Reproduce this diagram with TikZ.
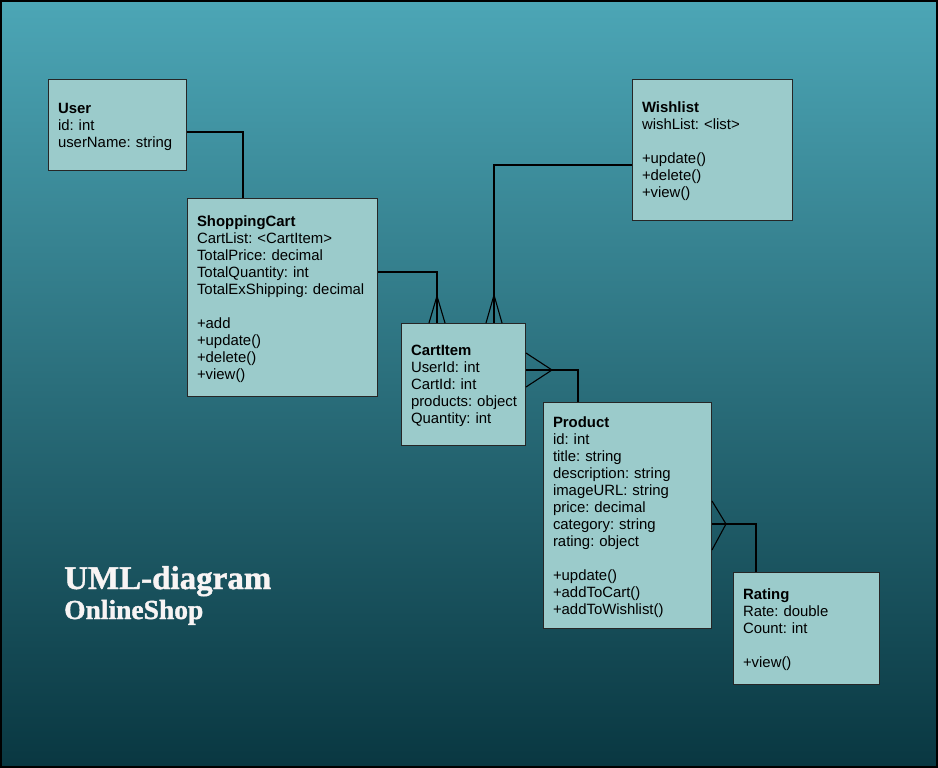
\documentclass[tikz,border=0pt]{standalone}
\usepackage{fontspec}
\setmainfont{Liberation Sans}
\newfontfamily\titlefont[BoldFeatures={FakeBold=1.3}]{Liberation Serif}
\frenchspacing
\definecolor{bgtop}{HTML}{4CA6B6}
\definecolor{bgmid}{HTML}{2A7884}
\definecolor{bgbot}{HTML}{093741}
\definecolor{boxfill}{HTML}{9BCBCB}
\definecolor{titlecol}{HTML}{F8F4F4}
\newcommand{\fstrut}{\rule{0pt}{13.6pt}}
\tikzset{
  cls/.style={draw=black!85, fill=boxfill, anchor=north west, align=left,
    inner xsep=9.5pt, inner ysep=0pt, line width=1pt,
    font=\fontsize{14.9}{17}\selectfont},
  conn/.style={draw=black, line width=1.1pt},
}
\begin{document}
\begin{tikzpicture}[x=1pt,y=-1pt]
\useasboundingbox (0,0) rectangle (938,768);
\shade[top color=bgtop, middle color=bgmid, bottom color=bgbot] (0,0) rectangle (938,768);
\draw[black, line width=2pt] (1,1) rectangle (937,767);

\node[cls, text width=119pt, minimum height=91pt] (user) at (48,79)
  {\fstrut\textbf{User}\\id: int\\userName: string};
\node[cls, text width=171pt, minimum height=198pt] (cart) at (187,198)
  {\fstrut\textbf{ShoppingCart}\\CartList: <CartItem>\\TotalPrice: decimal\\TotalQuantity: int\\TotalExShipping: decimal\\[17pt]+add\\+update()\\+delete()\\+view()};
\node[cls, text width=141pt, minimum height=141pt] (wish) at (632,79)
  {\fstrut\textbf{Wishlist}\\wishList: <list>\\[17pt]+update()\\+delete()\\+view()};
\node[cls, text width=105pt, minimum height=122pt] (item) at (401,323)
  {\fstrut\textbf{CartItem}\\UserId: int\\CartId: int\\\mbox{products: object}\\Quantity: int};
\node[cls, text width=149pt, minimum height=226pt] (prod) at (543,402)
  {\fstrut\textbf{Product}\\id: int\\title: string\\description: string\\imageURL: string\\price: decimal\\category: string\\rating: object\\[17pt]+update()\\+addToCart()\\+addToWishlist()};
\node[cls, text width=127pt, minimum height=112pt] (rate) at (733,572)
  {\fstrut\textbf{Rating}\\Rate: double\\Count: int\\[17pt]+view()};

% User -- ShoppingCart
\draw[conn] (user.east |- 0,132) -| (243,0 |- cart.north);
% ShoppingCart -- CartItem (many)
\draw[conn] (cart.east |- 0,272) -| (437,0 |- item.north);
\draw[conn] (429,0 |- item.north) -- (437,296) -- (445,0 |- item.north);
% Wishlist -- CartItem (many)
\draw[conn] (wish.west |- 0,165) -| (494,0 |- item.north);
\draw[conn] (486,0 |- item.north) -- (494,295) -- (502,0 |- item.north);
% CartItem (many) -- Product
\draw[conn] (item.east |- 0,370) -| (578,0 |- prod.north);
\draw[conn] (item.east |- 0,353) -- (552,370) -- (item.east |- 0,387);
% Product (many) -- Rating
\draw[conn] (prod.east |- 0,524) -| (756,0 |- rate.north);
\draw[conn] (prod.east |- 0,501) -- (726,524) -- (prod.east |- 0,550);

\node[anchor=base west, inner sep=0pt, text=titlecol, font=\titlefont\bfseries\fontsize{33}{38}\selectfont] (t1) at (64,589) {UML-diagram};
\node[anchor=base west, inner sep=0pt, text=titlecol, font=\titlefont\bfseries\fontsize{27.5}{30}\selectfont] (t2) at (64,619) {OnlineShop};
\end{tikzpicture}
\end{document}
